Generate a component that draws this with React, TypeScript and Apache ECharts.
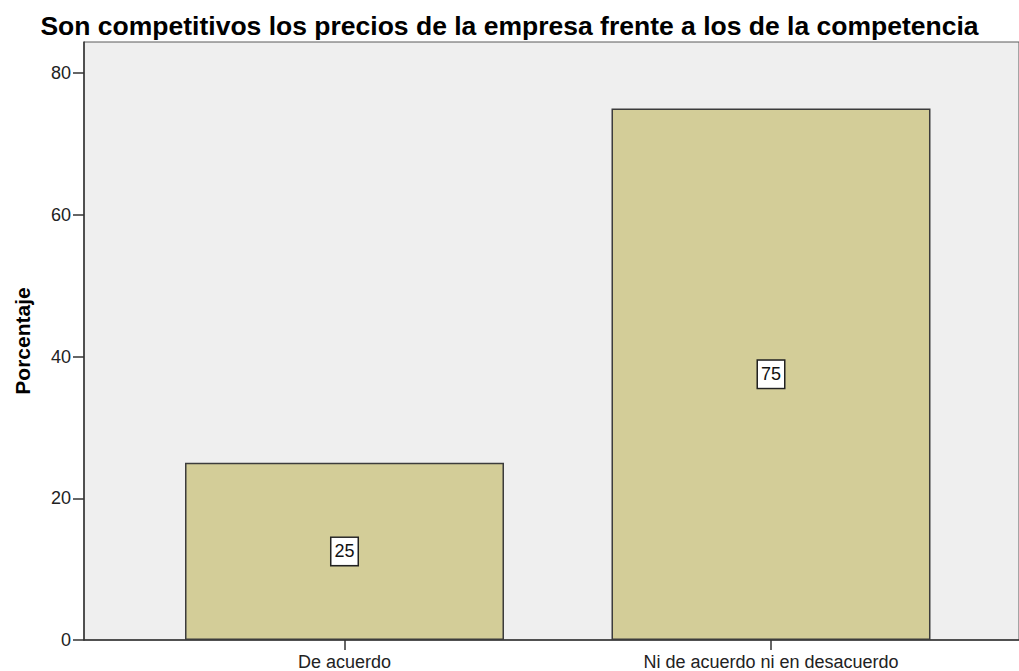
import React, { useEffect, useRef } from "react";
import * as echarts from "echarts";

const categories = ["De acuerdo", "Ni de acuerdo ni en desacuerdo"];
const values = [25, 75];
const yTicks = [0, 20, 40, 60, 80];
const titleText = "Son competitivos los precios de la empresa frente a los de la competencia";
const yName = "Porcentaje";

export default function App() {
  const ref = useRef<HTMLDivElement>(null);
  useEffect(() => {
    document.body.style.margin = "0";
    const chart = echarts.init(ref.current!, null, { renderer: "svg" });
    const font = "'Liberation Sans', Arial, sans-serif";
    chart.setOption({
      animation: false,
      backgroundColor: "#ffffff",
      title: {
        text: titleText,
        left: "center",
        top: 7,
        textStyle: { fontFamily: font, fontSize: 26.5, fontWeight: "bold", color: "#000" },
      },
      grid: {
        left: 84,
        top: 42,
        right: 0,
        bottom: 30,
        show: true,
        backgroundColor: "#efefef",
        borderColor: "#5a5a5a",
        borderWidth: 1,
      },
      xAxis: {
        type: "value",
        min: 0.3892,
        max: 2.5815,
        splitLine: { show: false },
        axisLine: { show: true, lineStyle: { color: "#333", width: 1.5 } },
        axisTick: { show: true, length: 10, customValues: [1, 2], lineStyle: { color: "#333", width: 1.5 } },
        axisLabel: {
          customValues: [1, 2],
          formatter: (v: number) => categories[Math.round(v) - 1] ?? "",
          fontFamily: font,
          fontSize: 18,
          color: "#222",
          margin: 13,
        },
      },
      yAxis: {
        type: "value",
        min: 0,
        max: 84.4,
        interval: 20,
        name: yName,
        nameLocation: "middle",
        nameGap: 51,
        nameTextStyle: { fontFamily: font, fontSize: 21, fontWeight: "bold", color: "#000" },
        splitLine: { show: false },
        axisLine: { show: true, lineStyle: { color: "#333", width: 1.5 } },
        axisTick: { show: true, length: 11, customValues: yTicks, lineStyle: { color: "#333", width: 1.5 } },
        axisLabel: {
          customValues: yTicks,
          fontFamily: font,
          fontSize: 18,
          color: "#222",
          margin: 13,
        },
      },
      series: [
        {
          type: "bar",
          data: values.map((v, i) => [i + 1, v]),
          barWidth: 319,
          itemStyle: { color: "#d3cd98", borderColor: "#3c3c3c", borderWidth: 1.5 },
          label: {
            show: true,
            position: "inside",
            formatter: (p: any) => String(p.value[1]),
            fontFamily: font,
            fontSize: 18,
            color: "#111",
            backgroundColor: "#ffffff",
            borderColor: "#222",
            borderWidth: 1.5,
            padding: [5, 3, 4, 3],
          },
        },
      ],
    });
    return () => chart.dispose();
  }, []);
  return <div ref={ref} style={{ width: 1019, height: 671 }} />;
}
